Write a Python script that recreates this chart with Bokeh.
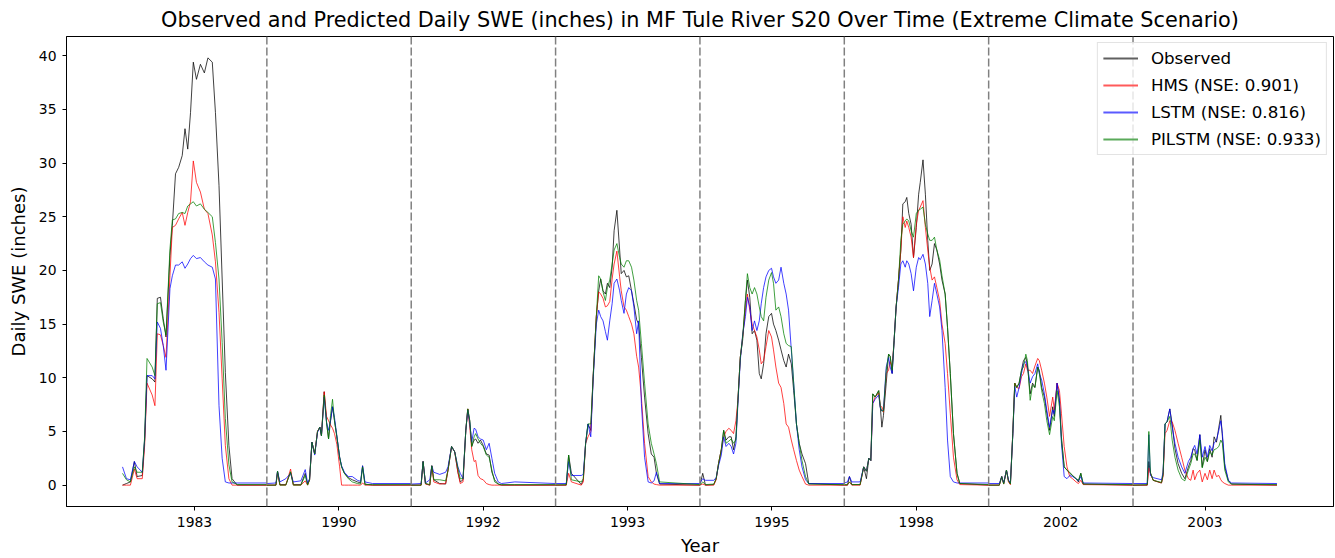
from bokeh.plotting import figure
from bokeh.models import Range1d, FixedTicker, Span, Legend, LegendItem
from bokeh.embed import file_html
from bokeh.resources import INLINE

# ---------------- data ----------------
SEG_LEN = 365
years = ["1983", "1990", "1992", "1993", "1995", "1998", "2002", "2003"]
labels = ["Observed", "HMS (NSE: 0.901)", "LSTM (NSE: 0.816)", "PILSTM (NSE: 0.933)"]
y_ticks = [0, 5, 10, 15, 20, 25, 30, 35, 40]

# day-of-season sample points and daily SWE (inches) for each season
days_1983 = [0, 10, 20, 30, 37, 50, 56, 62, 75, 82, 88, 96, 103, 110, 120, 126, 134, 142, 151, 158,
             165, 172, 179, 187, 197, 207, 216, 227, 235, 244, 252, 260, 269, 277, 290, 364]
obs_1983 = [0.0, 0.15, 0.3, 2.2, 0.8, 0.9, 4.2, 10.2, 9.9, 9.6, 17.4, 17.5, 15.5, 13.8, 21.4, 24.2, 29.0, 29.6,
            30.7, 33.2, 31.3, 34.7, 39.4, 37.8, 39.2, 38.4, 39.8, 39.4, 34.7, 27.9, 19.2, 10.5, 3.7, 0.6, 0, 0]
hms_1983 = [0, 0, 0, 1.5, 0.6, 0.6, 3.7, 9.5, 8.4, 7.4, 14.1, 14.0, 13.0, 11.9, 19.5, 24.0, 24.2, 24.8, 25.4,
            24.2, 25.4, 26.4, 30.2, 28.2, 27.3, 25.7, 25.3, 23.3, 20.8, 16.1, 9.9, 3.7, 0.6, 0, 0, 0]
lstm_1983 = [1.7, 0.6, 0.5, 2.2, 1.7, 1.2, 4.3, 10.2, 10.2, 9.9, 15.2, 14.6, 13.0, 10.7, 18.3, 19.5, 20.5, 20.5,
             20.8, 20.2, 20.6, 21.1, 21.4, 21.1, 21.2, 20.8, 20.5, 20.3, 19.2, 7.4, 2.5, 0.3, 0.2, 0.2, 0.2, 0.2]
pilstm_1983 = [1.1, 0.5, 0.3, 1.7, 1.2, 1.2, 4.5, 11.8, 11.0, 10.2, 16.9, 17.0, 15.2, 14.0, 22.0, 24.7, 24.8, 25.3,
               25.4, 25.3, 26.0, 26.2, 26.4, 26.0, 26.2, 25.7, 25.4, 25.0, 22.6, 19.2, 13.3, 6.2, 1.9, 0.3, 0.06, 0.05]

days_1990 = [0, 23, 27, 33, 48, 60, 67, 86, 97, 103, 108, 114, 121, 128, 134, 138, 145, 151, 156, 161,
             166, 171, 177, 184, 189, 196, 206, 216, 229, 237, 242, 248, 267, 364]
obs_1990 = [0, 0, 1.3, 0.05, 0.05, 1.2, 0.05, 0.05, 1.1, 0.05, 0.5, 4.0, 2.9, 5.0, 5.4, 4.6, 8.7, 5.8, 4.3, 6.0,
            7.3, 6.0, 4.5, 2.6, 1.7, 1.1, 0.7, 0.5, 0.3, 0.2, 1.8, 0.1, 0.0, 0.0]
hms_1990 = [0, 0, 1.2, 0, 0, 1.5, 0, 0, 0.4, 0, 0.5, 4.0, 2.9, 5.0, 5.4, 4.6, 8.7, 6.4, 6.0, 5.6,
            5.3, 4.8, 3.8, 1.7, 0.0, 0, 0, 0, 0, 0, 0.2, 0, 0, 0]
lstm_1990 = [0.15, 0.2, 1.3, 0.3, 0.6, 1.1, 0.3, 0.4, 1.45, 0.2, 0.6, 4.0, 2.8, 4.9, 5.4, 4.6, 8.2, 5.8, 5.1, 6.0,
             7.3, 6.3, 4.6, 2.6, 1.8, 1.2, 0.8, 0.8, 0.45, 0.35, 1.8, 0.3, 0.15, 0.15]
pilstm_1990 = [0, 0, 1.3, 0, 0, 1.25, 0, 0, 0.9, 0, 0.5, 4.0, 2.9, 5.0, 5.4, 4.6, 8.4, 5.8, 4.3, 6.5,
               8.0, 6.0, 4.5, 2.6, 1.7, 1.1, 0.6, 0.3, 0.15, 0.1, 1.7, 0.05, 0.05, 0.05]

days_1992 = [0, 25, 30, 36, 47, 52, 57, 72, 87, 93, 102, 110, 118, 124, 131, 138, 143, 148, 153, 159,
             163, 169, 175, 182, 190, 197, 204, 211, 220, 228, 262, 364]
obs_1992 = [0, 0, 2.2, 0.15, 0, 1.8, 0.5, 0.15, 0.1, 1.4, 3.6, 3.1, 1.2, 0.3, 0.5, 5.1, 7.1, 6.0, 3.6, 4.2,
            4.3, 3.9, 4.2, 3.7, 2.9, 2.8, 1.2, 0.5, 0.1, 0, 0, 0]
hms_1992 = [0, 0, 2.2, 0.1, 0, 1.8, 0.3, 0.1, 0.15, 1.4, 3.6, 3.1, 1.2, 0.15, 0.3, 5.1, 7.1, 5.4, 3.3, 2.2,
            2.3, 0.9, 0.6, 0.5, 0.15, 0.05, 0, 0, 0, 0, 0, 0]
lstm_1992 = [0.1, 0.15, 2.2, 0.2, 0.5, 1.8, 1.2, 1.0, 1.2, 1.7, 3.6, 3.1, 1.7, 1.1, 0.6, 5.1, 7.0, 5.8, 4.0, 5.3,
             5.2, 4.5, 4.3, 4.2, 3.3, 3.9, 2.5, 1.1, 0.3, 0.15, 0.3, 0.15]
pilstm_1992 = [0, 0, 2.2, 0.15, 0.05, 1.8, 0.5, 0.5, 0.4, 1.4, 3.6, 3.1, 1.6, 0.6, 0.6, 5.1, 7.1, 6.0, 3.6, 4.5,
               4.8, 4.3, 3.9, 3.6, 2.8, 2.6, 1.4, 0.3, 0.1, 0.05, 0.05, 0.05]

days_1993 = [0, 27, 33, 40, 65, 70, 76, 82, 89, 95, 103, 109, 114, 120, 126, 131, 137, 143, 148, 155,
             162, 166, 173, 179, 185, 192, 198, 205, 210, 217, 225, 234, 242, 249, 255, 263, 364]
obs_1993 = [0, 0, 2.8, 1.1, 0.05, 0.5, 3.9, 5.7, 5.1, 10.1, 15.7, 18.1, 19.2, 18.1, 17.8, 18.8, 18.4, 20.3, 23.7,
            25.6, 21.9, 19.7, 20.0, 19.4, 19.5, 18.1, 16.9, 15.4, 15.0, 11.9, 8.2, 4.8, 2.9, 2.6, 1.1, 0.1, 0]
hms_1993 = [0, 0, 1.1, 0.3, 0, 0.3, 3.9, 4.5, 5.0, 10.1, 15.7, 18.0, 17.8, 17.4, 16.6, 16.7, 17.1, 19.2, 20.6,
            21.8, 19.4, 18.1, 16.6, 16.3, 15.7, 15.0, 14.1, 12.0, 11.0, 8.2, 3.9, 0.8, 0.3, 0.1, 0.05, 0, 0]
lstm_1993 = [0.15, 0.15, 2.2, 0.9, 0.9, 1.0, 3.9, 5.7, 4.5, 9.8, 15.0, 16.3, 15.7, 15.3, 14.3, 13.5, 15.3, 16.9,
             18.8, 19.2, 18.1, 17.2, 16.0, 17.8, 18.4, 18.1, 16.6, 14.1, 15.3, 7.6, 2.6, 0.3, 0.2, 0.4, 1.2, 0.15, 0.15]
pilstm_1993 = [0.02, 0.05, 2.8, 0.5, 0.3, 0.6, 3.9, 5.7, 5.7, 10.1, 15.7, 19.5, 19.2, 18.0, 17.2, 18.4, 19.1,
               20.6, 21.9, 22.5, 21.2, 20.6, 20.3, 20.9, 20.9, 20.3, 19.1, 17.2, 16.3, 13.2, 9.5, 5.7, 3.9, 2.9,
               2.0, 0.3, 0.05]

days_1995 = [0, 7, 14, 35, 41, 47, 54, 60, 66, 73, 79, 85, 91, 96, 102, 108, 115, 120, 126, 132, 138, 144,
             150, 155, 161, 167, 174, 181, 186, 192, 199, 205, 212, 218, 224, 231, 237, 244, 251, 258, 267, 275, 364]
obs_1995 = [0, 1.1, 0, 0.05, 0.6, 2.0, 3.3, 5.1, 4.2, 4.5, 4.5, 3.3, 4.5, 7.9, 11.9, 13.5, 17.2, 19.1, 17.5, 14.1,
            14.4, 13.5, 10.4, 9.9, 11.3, 14.1, 15.7, 16.0, 15.0, 14.4, 13.5, 12.6, 11.6, 11.0, 12.2, 11.3, 8.8,
            5.7, 3.9, 2.9, 2.0, 0.15, 0]
hms_1995 = [0, 0.1, 0, 0, 0.5, 2.0, 3.3, 4.5, 5.0, 5.3, 5.1, 4.8, 6.0, 7.9, 11.9, 13.8, 16.3, 17.8, 16.3, 15.0,
            14.4, 13.8, 12.6, 11.3, 11.6, 12.9, 14.4, 13.8, 12.6, 11.0, 9.5, 9.1, 7.6, 5.7, 5.4, 4.2, 3.3, 2.3,
            1.4, 0.8, 0.1, 0, 0]
lstm_1995 = [0.2, 0.6, 0.45, 0.45, 0.7, 1.8, 2.8, 4.5, 3.6, 3.9, 3.6, 2.9, 3.9, 7.6, 11.6, 14.0, 15.7, 17.5,
             16.6, 14.4, 15.3, 14.4, 15.3, 16.9, 18.4, 19.4, 20.0, 20.2, 19.4, 18.8, 19.1, 20.3, 18.8, 17.8,
             16.3, 12.6, 9.5, 5.7, 3.3, 1.7, 0.5, 0.15, 0.15]
pilstm_1995 = [0, 0.3, 0.05, 0.1, 0.6, 2.0, 3.3, 5.1, 3.9, 4.1, 4.3, 3.9, 4.2, 7.9, 11.9, 13.8, 17.2, 19.7,
               18.4, 17.8, 18.4, 17.8, 16.6, 15.7, 15.3, 17.5, 19.1, 19.8, 18.8, 16.3, 16.6, 15.7, 14.1, 13.2,
               13.0, 12.9, 9.5, 5.7, 3.9, 2.3, 0.8, 0.1, 0.05]

days_1998 = [0, 8, 13, 19, 40, 49, 56, 62, 67, 72, 78, 87, 91, 95, 99, 106, 112, 116, 121, 126, 131, 137,
             143, 148, 154, 158, 163, 169, 175, 182, 188, 192, 199, 205, 211, 216, 222, 228, 234, 241, 247,
             255, 261, 268, 276, 285, 292, 364]
obs_1998 = [0, 0, 0.8, 0.05, 0.05, 1.7, 0.6, 2.5, 2.3, 8.5, 8.2, 8.8, 7.3, 5.4, 6.5, 9.5, 12.2, 12.0, 10.4, 13.5,
            16.6, 19.1, 21.9, 26.2, 26.4, 26.8, 25.3, 24.3, 21.2, 24.0, 27.1, 28.2, 30.3, 27.1, 22.8, 20.0,
            20.6, 22.5, 21.9, 20.6, 19.1, 17.8, 14.7, 10.4, 4.8, 1.1, 0.15, 0]
hms_1998 = [0, 0, 0.3, 0, 0, 1.7, 1.3, 2.5, 2.3, 7.6, 8.2, 8.6, 7.3, 7.3, 6.8, 10.4, 10.7, 11.5, 11.0, 13.5,
            16.6, 19.1, 21.9, 25.0, 24.0, 24.6, 24.0, 23.1, 21.2, 24.3, 25.6, 25.9, 26.5, 24.0, 21.9, 20.3,
            19.1, 19.4, 18.4, 17.2, 15.0, 13.2, 10.4, 6.7, 2.6, 0.5, 0.05, 0]
lstm_1998 = [0.2, 0.3, 0.8, 0.3, 0.3, 1.7, 1.3, 2.5, 2.3, 7.6, 8.0, 8.4, 7.2, 6.9, 7.0, 11.0, 11.9, 11.0, 10.4,
             13.5, 16.6, 18.4, 20.6, 20.9, 20.3, 20.9, 20.6, 19.7, 18.1, 20.3, 21.2, 21.0, 21.5, 20.6, 18.8,
             15.7, 17.2, 18.8, 17.8, 16.6, 14.4, 9.1, 4.2, 0.8, 0.3, 0.2, 0.2, 0.2]
pilstm_1998 = [0.05, 0.05, 0.3, 0.05, 0.05, 1.7, 1.3, 2.5, 2.3, 8.5, 8.2, 8.8, 7.3, 6.9, 6.9, 10.7, 12.2, 12.0,
               10.7, 13.5, 16.6, 19.1, 22.8, 24.3, 24.6, 24.8, 24.6, 23.7, 23.1, 25.3, 25.6, 25.7, 25.9, 24.3,
               23.4, 22.8, 22.8, 23.1, 21.9, 21.0, 19.5, 17.8, 14.7, 10.4, 4.8, 1.1, 0.15, 0.05]

days_2002 = [0, 27, 33, 38, 45, 50, 55, 61, 66, 71, 77, 83, 88, 94, 98, 105, 111, 117, 124, 128, 134, 141,
             147, 154, 162, 166, 173, 179, 184, 191, 198, 205, 212, 221, 227, 233, 239, 364]
obs_2002 = [0, 0, 0.8, 0.15, 1.4, 0.45, 0.1, 4.8, 9.5, 9.1, 9.5, 10.7, 11.6, 11.9, 11.2, 8.5, 9.5, 9.1, 11.0,
            10.7, 9.1, 8.2, 6.7, 5.1, 7.3, 6.4, 9.5, 7.9, 4.5, 1.7, 1.4, 1.1, 0.9, 0.6, 0.3, 1.1, 0.1, 0]
hms_2002 = [0, 0, 0.8, 0.1, 1.4, 0.3, 0.05, 4.8, 9.5, 9.1, 9.0, 10.1, 10.4, 11.3, 10.7, 10.7, 10.4, 11.1, 11.8,
            11.6, 10.7, 9.5, 8.2, 6.4, 8.2, 7.0, 9.5, 8.8, 6.7, 3.6, 1.7, 0.8, 0.6, 0.3, 0.15, 0.45, 0.05, 0]
lstm_2002 = [0.15, 0.15, 0.8, 0.2, 1.4, 0.5, 0.2, 4.6, 9.2, 8.2, 9.1, 10.4, 11.3, 11.5, 11.0, 9.5, 10.1, 10.4,
             11.3, 10.4, 9.8, 8.5, 7.0, 5.4, 7.0, 6.6, 9.5, 7.9, 3.9, 0.8, 0.6, 0.9, 0.8, 0.6, 0.4, 0.8, 0.2, 0.15]
pilstm_2002 = [0, 0, 0.8, 0.1, 1.4, 0.4, 0.1, 4.8, 9.5, 9.1, 9.5, 10.7, 11.0, 12.2, 11.6, 7.9, 9.3, 9.1, 11.0,
               10.5, 8.8, 7.6, 6.0, 4.7, 6.4, 6.0, 8.8, 7.3, 4.2, 1.7, 1.4, 1.2, 0.9, 0.6, 0.45, 1.1, 0.1, 0.05]

days_2003 = [0, 36, 40, 44, 51, 72, 76, 81, 86, 93, 99, 106, 114, 123, 131, 140, 146, 152, 156, 162, 169,
             175, 182, 188, 194, 200, 205, 211, 217, 222, 226, 232, 241, 249, 364]
obs_2003 = [0, 0, 2.2, 1.1, 0.45, 0.2, 1.0, 5.7, 5.9, 7.1, 5.7, 3.4, 2.0, 1.1, 0.6, 1.7, 2.3, 3.4, 3.3, 2.3,
            4.7, 1.7, 3.3, 2.2, 3.4, 2.6, 4.5, 4.0, 5.4, 6.5, 4.5, 1.7, 0.45, 0.1, 0]
hms_2003 = [0, 0, 1.6, 1.1, 0.45, 0.2, 0.8, 4.8, 5.1, 6.0, 5.9, 5.1, 3.9, 2.6, 1.4, 0.6, 0.45, 1.4, 0.5, 1.1,
            1.4, 0.3, 1.1, 0.5, 1.4, 0.6, 1.4, 0.8, 0.9, 0.5, 0.3, 0.15, 0, 0, 0]
lstm_2003 = [0.15, 0.15, 4.7, 0.9, 0.7, 0.5, 1.2, 5.7, 5.9, 7.1, 5.4, 3.9, 2.6, 1.7, 1.1, 2.2, 2.6, 3.4, 3.7,
             2.9, 4.7, 2.6, 3.6, 2.6, 3.7, 3.2, 3.9, 4.2, 5.1, 6.0, 4.8, 2.0, 0.45, 0.2, 0.15]
pilstm_2003 = [0, 0.05, 5.0, 1.2, 0.45, 0.25, 1.0, 5.7, 5.9, 6.4, 4.2, 2.6, 1.4, 0.6, 0.4, 1.4, 2.0, 2.9, 2.9,
               2.3, 4.2, 1.6, 2.6, 2.2, 3.1, 2.8, 3.3, 3.4, 3.6, 4.2, 3.9, 1.4, 0.3, 0.1, 0.05]

seasons = [
    (days_1983, obs_1983, hms_1983, lstm_1983, pilstm_1983),
    (days_1990, obs_1990, hms_1990, lstm_1990, pilstm_1990),
    (days_1992, obs_1992, hms_1992, lstm_1992, pilstm_1992),
    (days_1993, obs_1993, hms_1993, lstm_1993, pilstm_1993),
    (days_1995, obs_1995, hms_1995, lstm_1995, pilstm_1995),
    (days_1998, obs_1998, hms_1998, lstm_1998, pilstm_1998),
    (days_2002, obs_2002, hms_2002, lstm_2002, pilstm_2002),
    (days_2003, obs_2003, hms_2003, lstm_2003, pilstm_2003),
]

# ---------------- assemble continuous index ----------------
xs = []
series = [[], [], [], []]
for k, (d, *vals) in enumerate(seasons):
    n = min(len(d), *[len(v) for v in vals])
    xs.extend([k * SEG_LEN + di for di in d[:n]])
    for s, v in zip(series, vals):
        s.extend(v[:n])

FONT = "DejaVu Sans"
n_total = len(seasons) * SEG_LEN
NAN = float("nan")

p = figure(width=1335, height=558, output_backend="svg", toolbar_location=None,
           x_range=Range1d(-141.6, n_total + 141.9), y_range=Range1d(-1.99, 41.79),
           min_border_left=66, min_border_right=2, min_border_top=36, min_border_bottom=50,
           title="Observed and Predicted Daily SWE (inches) in MF Tule River S20 Over Time (Extreme Climate Scenario)")

p.title.text_font = FONT
p.title.text_font_size = "20.8px"
p.title.text_font_style = "normal"
p.title.align = "center"
p.title.text_color = "black"
p.title.standoff = 10

p.grid.visible = False
p.background_fill_color = "white"
p.border_fill_color = "white"
p.outline_line_color = "black"
p.outline_line_width = 1
p.outline_line_alpha = 1

colors = ["black", "red", "blue", "green"]
legend_colors = ["#606060", "#ff5a5a", "#5a5aff", "#5aaa5a"]  # the faded hues seen in the legend

for s, c in zip(series, colors):
    p.line(xs, s, line_color=c, line_width=1.0, line_alpha=0.75)

# legend-only renderers: a single undefined point each, so nothing is drawn in the plot
legend_renderers = [p.line([NAN], [NAN], line_color=c, line_width=2) for c in legend_colors]

for k in range(1, len(seasons)):
    p.add_layout(Span(location=k * SEG_LEN, dimension="height", line_color="#808080",
                      line_width=1.5, line_dash="8 3"))

# axes
p.xaxis.ticker = FixedTicker(ticks=[k * SEG_LEN + 182 for k in range(len(years))])
p.xaxis.major_label_overrides = {k * SEG_LEN + 182: y for k, y in enumerate(years)}
p.yaxis.ticker = FixedTicker(ticks=y_ticks)
p.xaxis.axis_label = "Year"
p.yaxis.axis_label = "Daily SWE (inches)"
for ax in (p.xaxis[0], p.yaxis[0]):
    ax.axis_label_text_font = FONT
    ax.axis_label_text_font_size = "18px"
    ax.axis_label_text_font_style = "normal"
    ax.axis_label_text_color = "black"
    ax.major_label_text_font = FONT
    ax.major_label_text_font_size = "13.9px"
    ax.major_label_text_color = "black"
    ax.major_tick_out = 4
    ax.major_tick_in = 0
    ax.minor_tick_out = 0
    ax.minor_tick_in = 0
    ax.axis_line_color = "black"
    ax.major_tick_line_color = "black"
p.yaxis.major_label_standoff = 6
p.yaxis.axis_label_standoff = 7
p.xaxis.major_label_standoff = 6
p.xaxis.axis_label_standoff = 5

legend = Legend(items=[LegendItem(label=l, renderers=[r]) for l, r in zip(labels, legend_renderers)],
                location="top_right")
legend.label_text_font = FONT
legend.label_text_font_size = "16.7px"
legend.label_text_color = "black"
legend.glyph_width = 35
legend.glyph_height = 20
legend.label_height = 20
legend.label_standoff = 13
legend.spacing = 7
legend.padding = 5
legend.margin = 6
legend.border_line_color = "#c8c8c8"
legend.border_line_width = 1
legend.background_fill_color = "white"
legend.background_fill_alpha = 0.8
p.add_layout(legend)

open("out.html", "w").write(file_html(p, INLINE))
